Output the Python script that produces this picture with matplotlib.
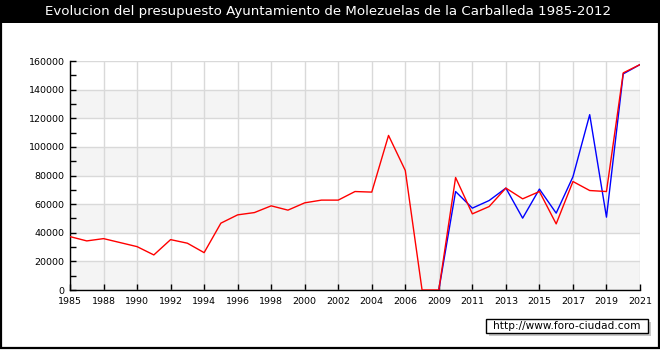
import numpy as np
import matplotlib
matplotlib.use("Agg")
import matplotlib.pyplot as plt
from matplotlib.patches import Rectangle
from matplotlib.ticker import MultipleLocator

years = [1985] + list(range(1987, 2008)) + list(range(2009, 2022))
red_values = [37300, 34300, 35900, 33100, 30300, 24500, 35200, 32700, 26100, 46700,
              52500, 54100, 58800, 55800, 60900, 62800, 62800, 68800, 68400, 108000,
              83500, 0, 0, 78600, 53200, 58300, 71200, 63700, 68800, 46200,
              75800, 69500, 68800, 151700, 157500]
blue_values = [np.nan] * 22 + [0, 68800, 57200, 62500, 71200, 50200, 70500, 53700,
                               79100, 122500, 50900, 151000, 157500]
title = "Evolucion del presupuesto Ayuntamiento de Molezuelas de la Carballeda 1985-2012"
watermark = "http://www.foro-ciudad.com"

W, H = 660, 350
fig = plt.figure(figsize=(W / 100, H / 100), dpi=100)
fig.patch.set_facecolor("white")

def fx(px):
    return px / W

def fy(py):
    return 1 - py / H

# title bar
fig.add_artist(Rectangle((0, fy(23)), 1, 23 / H, transform=fig.transFigure,
                         facecolor="black", edgecolor="none", zorder=0))
fig.text(fx(328), fy(12), title, color="white", ha="center", va="center",
         fontsize=9.6, family="DejaVu Sans")

# border
fig.add_artist(Rectangle((fx(0.5), fy(348)), fx(658), 347.5 / H, transform=fig.transFigure,
                         facecolor="none", edgecolor="black", linewidth=1.6, zorder=10))

x0, x1, ytop, ybot = 70, 640, 61, 290
ax = fig.add_axes([fx(x0), fy(ybot), fx(x1 - x0), (ybot - ytop) / H])
x = np.arange(len(years))

ax.set_xlim(0, len(years) - 1)
ax.set_ylim(0, 160000)

# bands
for i, lo in enumerate(range(0, 160000, 20000)):
    if i % 2 == 0:
        ax.axhspan(lo, lo + 20000, facecolor="#f4f4f4", edgecolor="none", zorder=0)

ax.set_facecolor("white")
ax.set_axisbelow(True)
ax.grid(True, color="#d9d9d9", linewidth=1.0, zorder=1)

ax.plot(x, blue_values, color="#0000ff", linewidth=1.0, zorder=3)
ax.plot(x, red_values, color="#ff0000", linewidth=1.0, zorder=4)

ax.set_xticks(x[::2])
ax.set_xticklabels([str(y) for y in years[::2]])
ax.yaxis.set_major_locator(MultipleLocator(20000))
ax.yaxis.set_minor_locator(MultipleLocator(10000))
ax.tick_params(axis="both", which="both", direction="in", length=4, width=1,
               labelsize=6.8, colors="black")
ax.tick_params(axis="x", which="minor", length=0)
ax.tick_params(axis="x", pad=5)
ax.tick_params(axis="y", pad=4)

for s in ("top", "right"):
    ax.spines[s].set_visible(False)
for s in ("left", "bottom"):
    ax.spines[s].set_color("black")
    ax.spines[s].set_linewidth(1.0)

# watermark box with shadow
bx0, by0, bx1, by1 = 486, 319, 648, 333
fig.add_artist(Rectangle((fx(bx0 + 3), fy(by1 + 3)), fx(bx1 - bx0), (by1 - by0) / H,
                         transform=fig.transFigure, facecolor="#c8c8c8",
                         edgecolor="none", zorder=5))
fig.add_artist(Rectangle((fx(bx0), fy(by1)), fx(bx1 - bx0), (by1 - by0) / H,
                         transform=fig.transFigure, facecolor="white",
                         edgecolor="black", linewidth=1.0, zorder=6))
fig.text(fx((bx0 + bx1) / 2), fy((by0 + by1) / 2), watermark, ha="center", va="center",
         fontsize=7.6, color="black", zorder=7)

fig.savefig("out.png", dpi=100)
